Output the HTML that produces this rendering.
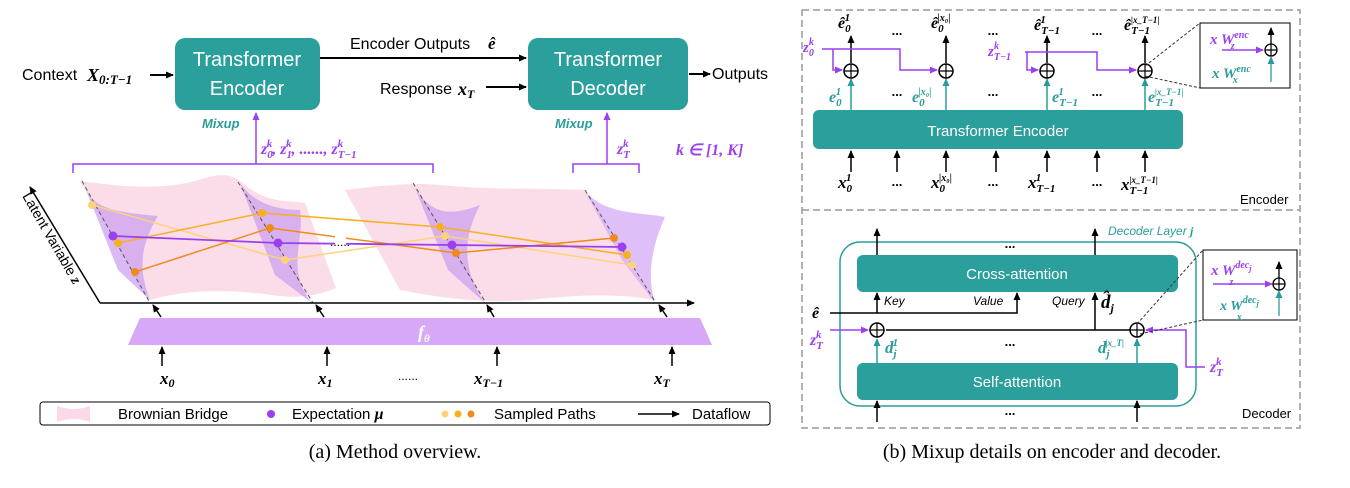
<!DOCTYPE html>
<html><head><meta charset="utf-8"><style>
body{margin:0;background:#fff;width:1350px;height:488px;overflow:hidden}
svg{display:block}
.s{font-family:"Liberation Sans",sans-serif}
.m{font-family:"Liberation Serif",serif;font-style:italic;font-weight:bold}
.c{font-family:"Liberation Serif",serif}
</style></head><body>
<svg width="1350" height="488" viewBox="0 0 1350 488" xmlns="http://www.w3.org/2000/svg">
<defs>
<marker id="ak" markerWidth="8" markerHeight="8" refX="7" refY="4" orient="auto" markerUnits="userSpaceOnUse"><path d="M0,0.5 L8,4 L0,7.5z" fill="#000"/></marker>
<marker id="ap" markerWidth="8" markerHeight="8" refX="7" refY="4" orient="auto" markerUnits="userSpaceOnUse"><path d="M0,0.5 L8,4 L0,7.5z" fill="#9b3ff0"/></marker>
<marker id="at" markerWidth="8" markerHeight="8" refX="7" refY="4" orient="auto" markerUnits="userSpaceOnUse"><path d="M0,0.5 L8,4 L0,7.5z" fill="#2a9d9a"/></marker>
</defs>

<!-- ===== Left top ===== -->
<text x="22" y="80" class="s" font-size="16">Context</text>
<text x="87" y="81" class="m" font-size="18">X<tspan font-size="13" dy="3">0:T−1</tspan></text>
<line x1="150" y1="75" x2="173" y2="75" stroke="#000" stroke-width="2" marker-end="url(#ak)"/>
<rect x="175" y="38" width="145" height="72" rx="10" fill="#2a9f9c"/>
<text x="247" y="66" class="s" font-size="20" fill="#fff" text-anchor="middle">Transformer</text>
<text x="247" y="95" class="s" font-size="20" fill="#fff" text-anchor="middle">Encoder</text>
<text x="350" y="49" class="s" font-size="16">Encoder Outputs</text>
<text x="488" y="49" class="m" font-size="17">ê</text>
<line x1="320" y1="58" x2="526" y2="58" stroke="#000" stroke-width="2" marker-end="url(#ak)"/>
<text x="380" y="94" class="s" font-size="16">Response</text>
<text x="458" y="95" class="m" font-size="18">x<tspan font-size="12" dy="3">T</tspan></text>
<line x1="486" y1="87" x2="526" y2="87" stroke="#000" stroke-width="2" marker-end="url(#ak)"/>
<rect x="528" y="38" width="160" height="72" rx="10" fill="#2a9f9c"/>
<text x="608" y="66" class="s" font-size="20" fill="#fff" text-anchor="middle">Transformer</text>
<text x="608" y="95" class="s" font-size="20" fill="#fff" text-anchor="middle">Decoder</text>
<line x1="689" y1="74" x2="710" y2="74" stroke="#000" stroke-width="2" marker-end="url(#ak)"/>
<text x="712" y="79" class="s" font-size="16">Outputs</text>

<text x="202" y="128" class="s" font-size="13" font-style="italic" font-weight="bold" fill="#2a9d9a">Mixup</text>
<line x1="256" y1="164" x2="256" y2="113" stroke="#9b3ff0" stroke-width="1.5" marker-end="url(#ap)"/>
<text x="261" y="154" class="m" font-size="16" fill="#9b3ff0">z<tspan font-size="11" dy="4">0</tspan><tspan font-size="11" dx="-6" dy="-11">k</tspan><tspan dy="7">,  z</tspan><tspan font-size="11" dy="4">1</tspan><tspan font-size="11" dx="-6" dy="-11">k</tspan><tspan dy="7">,  ......,  z</tspan><tspan font-size="11" dy="4">T−1</tspan><tspan font-size="11" dx="-19" dy="-11">k</tspan></text>
<path d="M73,173 V164 H433 V173" fill="none" stroke="#9b3ff0" stroke-width="1.5"/>
<text x="555" y="128" class="s" font-size="13" font-style="italic" font-weight="bold" fill="#2a9d9a">Mixup</text>
<line x1="607" y1="164" x2="607" y2="113" stroke="#9b3ff0" stroke-width="1.5" marker-end="url(#ap)"/>
<text x="617" y="154" class="m" font-size="16" fill="#9b3ff0">z<tspan font-size="11" dy="4">T</tspan><tspan font-size="11" dx="-7" dy="-11">k</tspan></text>
<path d="M573,173 V164 H639 V173" fill="none" stroke="#9b3ff0" stroke-width="1.5"/>
<text x="676" y="155" class="m" font-size="16" fill="#9b3ff0">k ∈ [1, K]</text>

<!-- ===== sheets ===== -->
<path d="M80,181 C130,188 170,190 205,178 C225,172 235,176 245,185 C270,205 290,200 305,203 L336,288 C312,298 292,298 272,295 C232,290 190,288 150,300 Z" fill="#fbd9e8" opacity="0.9"/>
<path d="M345,190 C380,186 410,182 440,185 C490,190 540,188 585,190 L655,300 C610,292 570,296 530,300 C490,303 450,300 400,290 Z" fill="#fbd9e8" opacity="0.9"/>
<!-- distributions -->
<path d="M84,185 C92,208 112,212 158,216 C145,238 135,262 150,300 L118,270 Z" fill="#c99cf0" opacity="0.7"/>
<path d="M240,183 C255,205 280,210 300,210 C305,240 285,270 312,303 L275,275 Z" fill="#c99cf0" opacity="0.7"/>
<path d="M415,188 C430,212 447,218 480,205 C470,225 455,260 485,303 L448,270 Z" fill="#c99cf0" opacity="0.7"/>
<path d="M585,191 C605,215 640,212 665,217 C655,240 645,270 655,303 L622,260 Z" fill="#d9b4f7" opacity="0.85"/>
<g stroke="#555" stroke-width="1" stroke-dasharray="4,3">
<line x1="82" y1="181" x2="150" y2="303"/><line x1="238" y1="182" x2="313" y2="303"/>
<line x1="413" y1="183" x2="486" y2="303"/><line x1="585" y1="190" x2="656" y2="303"/>
</g>
<!-- axes -->
<line x1="100" y1="303" x2="30" y2="187" stroke="#000" stroke-width="1.5" marker-end="url(#ak)"/>
<line x1="100" y1="303" x2="694" y2="303" stroke="#000" stroke-width="1.5" marker-end="url(#ak)"/>
<text transform="translate(22,196) rotate(60)" class="s" font-size="14">Latent Variable <tspan class="m" font-size="15">z</tspan></text>
<!-- paths -->
<polyline points="92,205 285,260 445,236 632,265" fill="none" stroke="#fcd27a" stroke-width="1.5"/>
<polyline points="118,243 262,213 440,227 627,255" fill="none" stroke="#f8b020" stroke-width="1.5"/>
<polyline points="135,272 270,228 456,253 614,238" fill="none" stroke="#f08a20" stroke-width="1.5"/>
<polyline points="113,236 278,243 452,245 622,247" fill="none" stroke="#9b3ff0" stroke-width="1.8"/>
<rect x="335" y="236" width="11" height="14" fill="#fff"/>
<text x="340" y="246" class="s" font-size="12" text-anchor="middle">......</text>
<g>
<circle cx="92" cy="205" r="4" fill="#fcd27a"/><circle cx="118" cy="243" r="4" fill="#f8b020"/><circle cx="135" cy="272" r="4" fill="#f08a20"/>
<circle cx="285" cy="260" r="4" fill="#fcd27a"/><circle cx="262" cy="213" r="4" fill="#f8b020"/><circle cx="270" cy="228" r="4" fill="#f08a20"/>
<circle cx="445" cy="236" r="4" fill="#fcd27a"/><circle cx="440" cy="227" r="4" fill="#f8b020"/><circle cx="456" cy="253" r="4" fill="#f08a20"/>
<circle cx="632" cy="265" r="4" fill="#fcd27a"/><circle cx="627" cy="255" r="4" fill="#f8b020"/><circle cx="614" cy="238" r="4" fill="#f08a20"/>
<circle cx="113" cy="236" r="4.5" fill="#9b3ff0"/><circle cx="278" cy="243" r="4.5" fill="#9b3ff0"/><circle cx="452" cy="245" r="4.5" fill="#9b3ff0"/><circle cx="622" cy="247" r="4.5" fill="#9b3ff0"/>
</g>
<!-- f theta -->
<path d="M140,318 L700,318 L712,345 L128,345 Z" fill="#d6a8f6"/>
<text x="418" y="338" class="m" font-size="18" fill="#fff">f<tspan font-size="11" dy="4">θ</tspan></text>
<g stroke="#000" stroke-width="1.5">
<line x1="161" y1="317" x2="153" y2="305" marker-end="url(#ak)"/><line x1="324" y1="317" x2="316" y2="305" marker-end="url(#ak)"/>
<line x1="494" y1="317" x2="487" y2="305" marker-end="url(#ak)"/><line x1="667" y1="317" x2="659" y2="305" marker-end="url(#ak)"/>
<line x1="162" y1="366" x2="162" y2="347" marker-end="url(#ak)"/><line x1="327" y1="366" x2="327" y2="347" marker-end="url(#ak)"/>
<line x1="497" y1="366" x2="497" y2="347" marker-end="url(#ak)"/><line x1="672" y1="366" x2="672" y2="347" marker-end="url(#ak)"/>
</g>
<text x="160" y="384" class="m" font-size="17">x<tspan font-size="12" dy="3">0</tspan></text>
<text x="318" y="384" class="m" font-size="17">x<tspan font-size="12" dy="3">1</tspan></text>
<text x="408" y="380" class="s" font-size="12" text-anchor="middle">......</text>
<text x="474" y="384" class="m" font-size="17">x<tspan font-size="12" dy="3">T−1</tspan></text>
<text x="654" y="384" class="m" font-size="17">x<tspan font-size="12" dy="3">T</tspan></text>
<!-- legend -->
<rect x="40" y="402" width="730" height="23" rx="3" fill="#fff" stroke="#000" stroke-width="1"/>
<path d="M57,406 C70,410 78,410 90,406 L90,422 C78,418 70,418 57,422 Z" fill="#fbd9e8"/>
<text x="118" y="419" class="s" font-size="15">Brownian Bridge</text>
<circle cx="271" cy="414" r="4" fill="#9b3ff0"/>
<text x="292" y="419" class="s" font-size="15">Expectation <tspan class="m" font-size="16">μ</tspan></text>
<circle cx="445" cy="414" r="3.5" fill="#fcd27a"/><circle cx="458" cy="414" r="3.5" fill="#f8b020"/><circle cx="471" cy="414" r="3.5" fill="#f08a20"/>
<text x="494" y="419" class="s" font-size="15">Sampled Paths</text>
<line x1="638" y1="414" x2="679" y2="414" stroke="#000" stroke-width="1.5" marker-end="url(#ak)"/>
<text x="692" y="419" class="s" font-size="15">Dataflow</text>
<text x="395" y="458" class="c" font-size="20" text-anchor="middle">(a) Method overview.</text>

<!-- ===== Right panel ===== -->
<rect x="802" y="10" width="498" height="418" fill="none" stroke="#999" stroke-width="1.5" stroke-dasharray="7,4"/>
<line x1="802" y1="210" x2="1300" y2="210" stroke="#999" stroke-width="1.5" stroke-dasharray="7,4"/>
<text x="1240" y="204" class="s" font-size="13">Encoder</text>
<text x="1242" y="418" class="s" font-size="13">Decoder</text>

<rect x="813" y="110" width="370" height="39" rx="6" fill="#2a9f9c"/>
<text x="998" y="136" class="s" font-size="15" fill="#fff" text-anchor="middle">Transformer Encoder</text>
<g stroke="#000" stroke-width="1.5">
<line x1="851" y1="172" x2="851" y2="151" marker-end="url(#ak)"/><line x1="897" y1="172" x2="897" y2="151" marker-end="url(#ak)"/>
<line x1="946" y1="172" x2="946" y2="151" marker-end="url(#ak)"/><line x1="996" y1="172" x2="996" y2="151" marker-end="url(#ak)"/>
<line x1="1047" y1="172" x2="1047" y2="151" marker-end="url(#ak)"/><line x1="1097" y1="172" x2="1097" y2="151" marker-end="url(#ak)"/>
<line x1="1145" y1="172" x2="1145" y2="151" marker-end="url(#ak)"/>
<line x1="851" y1="63" x2="851" y2="36" marker-end="url(#ak)"/><line x1="946" y1="63" x2="946" y2="36" marker-end="url(#ak)"/>
<line x1="1047" y1="63" x2="1047" y2="36" marker-end="url(#ak)"/><line x1="1145" y1="63" x2="1145" y2="36" marker-end="url(#ak)"/>
</g>
<g stroke="#2a9d9a" stroke-width="1.5">
<line x1="851" y1="110" x2="851" y2="79" marker-end="url(#at)"/><line x1="946" y1="110" x2="946" y2="79" marker-end="url(#at)"/>
<line x1="1047" y1="110" x2="1047" y2="79" marker-end="url(#at)"/><line x1="1145" y1="110" x2="1145" y2="79" marker-end="url(#at)"/>
</g>
<g fill="#fff" stroke="#000" stroke-width="1.5">
<circle cx="851" cy="71" r="7"/><circle cx="946" cy="71" r="7"/><circle cx="1047" cy="71" r="7"/><circle cx="1145" cy="71" r="7"/>
</g>
<g stroke="#000" stroke-width="1.2">
<path d="M844,71h14M851,64v14M939,71h14M946,64v14M1040,71h14M1047,64v14M1138,71h14M1145,64v14"/>
</g>
<g fill="none" stroke="#9b3ff0" stroke-width="1.5">
<path d="M822,49 H900 V70 H937" marker-end="url(#ap)"/><path d="M833,49 V70 H842" marker-end="url(#ap)"/>
<path d="M1025,52 H1097 V70 H1136" marker-end="url(#ap)"/><path d="M1027,52 V70 H1038" marker-end="url(#ap)"/>
</g>
<text x="803" y="52" class="m" font-size="15" fill="#9b3ff0">z<tspan font-size="10" dy="4">0</tspan><tspan font-size="10" dx="-5" dy="-11">k</tspan></text>
<text x="988" y="56" class="m" font-size="15" fill="#9b3ff0">z<tspan font-size="10" dy="4">T−1</tspan><tspan font-size="10" dx="-17" dy="-11">k</tspan></text>
<g class="m" font-size="16">
<text x="838" y="28">ê<tspan font-size="11" dy="4">0</tspan><tspan font-size="11" dx="-6" dy="-11">1</tspan></text>
<text x="931" y="28">ê<tspan font-size="11" dy="4">0</tspan><tspan font-size="10" dx="-6" dy="-11">|x₀|</tspan></text>
<text x="1034" y="30">ê<tspan font-size="11" dy="4">T−1</tspan><tspan font-size="11" dx="-19" dy="-11">1</tspan></text>
<text x="1124" y="30">ê<tspan font-size="11" dy="4">T−1</tspan><tspan font-size="9" dx="-19" dy="-11">|x_T−1|</tspan></text>
</g>
<g class="m" font-size="16" fill="#2a9d9a">
<text x="829" y="102">e<tspan font-size="11" dy="4">0</tspan><tspan font-size="11" dx="-6" dy="-11">1</tspan></text>
<text x="912" y="102">e<tspan font-size="11" dy="4">0</tspan><tspan font-size="10" dx="-6" dy="-11">|x₀|</tspan></text>
<text x="1052" y="102">e<tspan font-size="11" dy="4">T−1</tspan><tspan font-size="11" dx="-19" dy="-11">1</tspan></text>
<text x="1148" y="102">e<tspan font-size="11" dy="4">T−1</tspan><tspan font-size="9" dx="-19" dy="-11">|x_T−1|</tspan></text>
</g>
<g class="s" font-size="13" font-weight="bold" text-anchor="middle">
<text x="897" y="35">...</text><text x="993" y="35">...</text><text x="1097" y="35">...</text>
<text x="897" y="96">...</text><text x="993" y="96">...</text><text x="1097" y="96">...</text>
<text x="897" y="186">...</text><text x="993" y="186">...</text><text x="1097" y="186">...</text>
</g>
<g class="m" font-size="17">
<text x="838" y="188">x<tspan font-size="11" dy="4">0</tspan><tspan font-size="11" dx="-6" dy="-11">1</tspan></text>
<text x="931" y="188">x<tspan font-size="11" dy="4">0</tspan><tspan font-size="10" dx="-6" dy="-11">|x₀|</tspan></text>
<text x="1028" y="188">x<tspan font-size="11" dy="4">T−1</tspan><tspan font-size="11" dx="-19" dy="-11">1</tspan></text>
<text x="1121" y="190">x<tspan font-size="11" dy="4">T−1</tspan><tspan font-size="9" dx="-19" dy="-11">|x_T−1|</tspan></text>
</g>
<!-- encoder inset -->
<rect x="1200" y="23" width="90" height="65" fill="#fff" stroke="#000" stroke-width="1"/>
<line x1="1145" y1="66" x2="1200" y2="23" stroke="#333" stroke-dasharray="3,2"/>
<line x1="1145" y1="76" x2="1200" y2="88" stroke="#333" stroke-dasharray="3,2"/>
<text x="1210" y="44" class="m" font-size="15" fill="#9b3ff0">x W<tspan font-size="10" dy="-6">enc</tspan><tspan font-size="10" dx="-18" dy="11">z</tspan></text>
<line x1="1222" y1="50" x2="1263" y2="50" stroke="#9b3ff0" stroke-width="1.5" marker-end="url(#ap)"/>
<circle cx="1271" cy="50" r="6" fill="#fff" stroke="#000" stroke-width="1.3"/><path d="M1265,50h12M1271,44v12" stroke="#000" stroke-width="1.2"/>
<line x1="1271" y1="44" x2="1271" y2="28" stroke="#000" stroke-width="1.3" marker-end="url(#ak)"/>
<line x1="1271" y1="82" x2="1271" y2="57" stroke="#2a9d9a" stroke-width="1.3" marker-end="url(#at)"/>
<text x="1212" y="78" class="m" font-size="15" fill="#2a9d9a">x W<tspan font-size="10" dy="-6">enc</tspan><tspan font-size="10" dx="-18" dy="11">x</tspan></text>

<!-- decoder -->
<rect x="840" y="242" width="356" height="164" rx="20" fill="none" stroke="#2a9d9a" stroke-width="1.5"/>
<text x="1108" y="235" class="s" font-size="12" font-style="italic" fill="#2a9d9a">Decoder Layer <tspan class="m">j</tspan></text>
<rect x="857" y="255" width="321" height="37" rx="6" fill="#2a9f9c"/>
<text x="1017" y="279" class="s" font-size="15" fill="#fff" text-anchor="middle">Cross-attention</text>
<rect x="857" y="363" width="321" height="37" rx="6" fill="#2a9f9c"/>
<text x="1017" y="387" class="s" font-size="15" fill="#fff" text-anchor="middle">Self-attention</text>
<g stroke="#000" stroke-width="1.5">
<line x1="877" y1="255" x2="877" y2="229" marker-end="url(#ak)"/><line x1="1095" y1="255" x2="1095" y2="229" marker-end="url(#ak)"/>
<line x1="877" y1="422" x2="877" y2="401" marker-end="url(#ak)"/><line x1="1137" y1="422" x2="1137" y2="401" marker-end="url(#ak)"/>
<path d="M830,313 H1017 V293" fill="none" marker-end="url(#ak)"/>
<line x1="877" y1="313" x2="877" y2="293" marker-end="url(#ak)"/>
<line x1="886" y1="330" x2="1130" y2="330"/>
<line x1="1095" y1="330" x2="1095" y2="293" marker-end="url(#ak)"/>
</g>
<text x="812" y="318" class="m" font-size="16">ê</text>
<g class="s" font-size="12" font-style="italic">
<text x="884" y="305">Key</text><text x="973" y="305">Value</text><text x="1052" y="305">Query</text>
</g>
<text x="1101" y="308" class="m" font-size="19">d̂<tspan font-size="12" dy="4">j</tspan></text>
<g stroke="#2a9d9a" stroke-width="1.5">
<line x1="877" y1="363" x2="877" y2="339" marker-end="url(#at)"/><line x1="1137" y1="363" x2="1137" y2="339" marker-end="url(#at)"/>
</g>
<g fill="#fff" stroke="#000" stroke-width="1.5"><circle cx="877" cy="330" r="7"/><circle cx="1137" cy="330" r="7"/></g>
<path d="M870,330h14M877,323v14M1130,330h14M1137,323v14" stroke="#000" stroke-width="1.2"/>
<line x1="830" y1="330" x2="868" y2="330" stroke="#9b3ff0" stroke-width="1.5" marker-end="url(#ap)"/>
<path d="M1205,367 H1186 V330 H1146" fill="none" stroke="#9b3ff0" stroke-width="1.5" marker-end="url(#ap)"/>
<text x="810" y="345" class="m" font-size="16" fill="#9b3ff0">z<tspan font-size="11" dy="4">T</tspan><tspan font-size="11" dx="-7" dy="-11">k</tspan></text>
<text x="1210" y="372" class="m" font-size="16" fill="#9b3ff0">z<tspan font-size="11" dy="4">T</tspan><tspan font-size="11" dx="-7" dy="-11">k</tspan></text>
<text x="885" y="353" class="m" font-size="17" fill="#2a9d9a">d<tspan font-size="11" dy="4">j</tspan><tspan font-size="11" dx="-4" dy="-11">1</tspan></text>
<text x="1098" y="353" class="m" font-size="17" fill="#2a9d9a">d<tspan font-size="11" dy="4">j</tspan><tspan font-size="9" dx="-4" dy="-11">|x_T|</tspan></text>
<g class="s" font-size="13" font-weight="bold" text-anchor="middle">
<text x="1010" y="248">...</text><text x="1010" y="346">...</text><text x="1010" y="415">...</text>
</g>
<!-- decoder inset -->
<rect x="1203" y="250" width="94" height="70" fill="#fff" stroke="#000" stroke-width="1"/>
<line x1="1137" y1="324" x2="1203" y2="250" stroke="#333" stroke-dasharray="3,2"/>
<line x1="1140" y1="334" x2="1203" y2="320" stroke="#333" stroke-dasharray="3,2"/>
<text x="1211" y="275" class="m" font-size="15" fill="#9b3ff0">x  W<tspan font-size="10" dy="-7">dec<tspan font-size="8" dy="3">j</tspan></tspan><tspan font-size="10" dx="-22" dy="14">z</tspan></text>
<line x1="1213" y1="284" x2="1272" y2="284" stroke="#9b3ff0" stroke-width="1.5" marker-end="url(#ap)"/>
<circle cx="1279" cy="284" r="6" fill="#fff" stroke="#000" stroke-width="1.3"/><path d="M1273,284h12M1279,278v12" stroke="#000" stroke-width="1.2"/>
<line x1="1279" y1="278" x2="1279" y2="262" stroke="#000" stroke-width="1.3" marker-end="url(#ak)"/>
<line x1="1279" y1="316" x2="1279" y2="291" stroke="#2a9d9a" stroke-width="1.3" marker-end="url(#at)"/>
<text x="1220" y="310" class="m" font-size="14" fill="#2a9d9a">x W<tspan font-size="10" dy="-7">dec<tspan font-size="8" dy="3">j</tspan></tspan><tspan font-size="10" dx="-22" dy="14">x</tspan></text>

<text x="1052" y="458" class="c" font-size="20" text-anchor="middle">(b) Mixup details on encoder and decoder.</text>
</svg>
</body></html>
